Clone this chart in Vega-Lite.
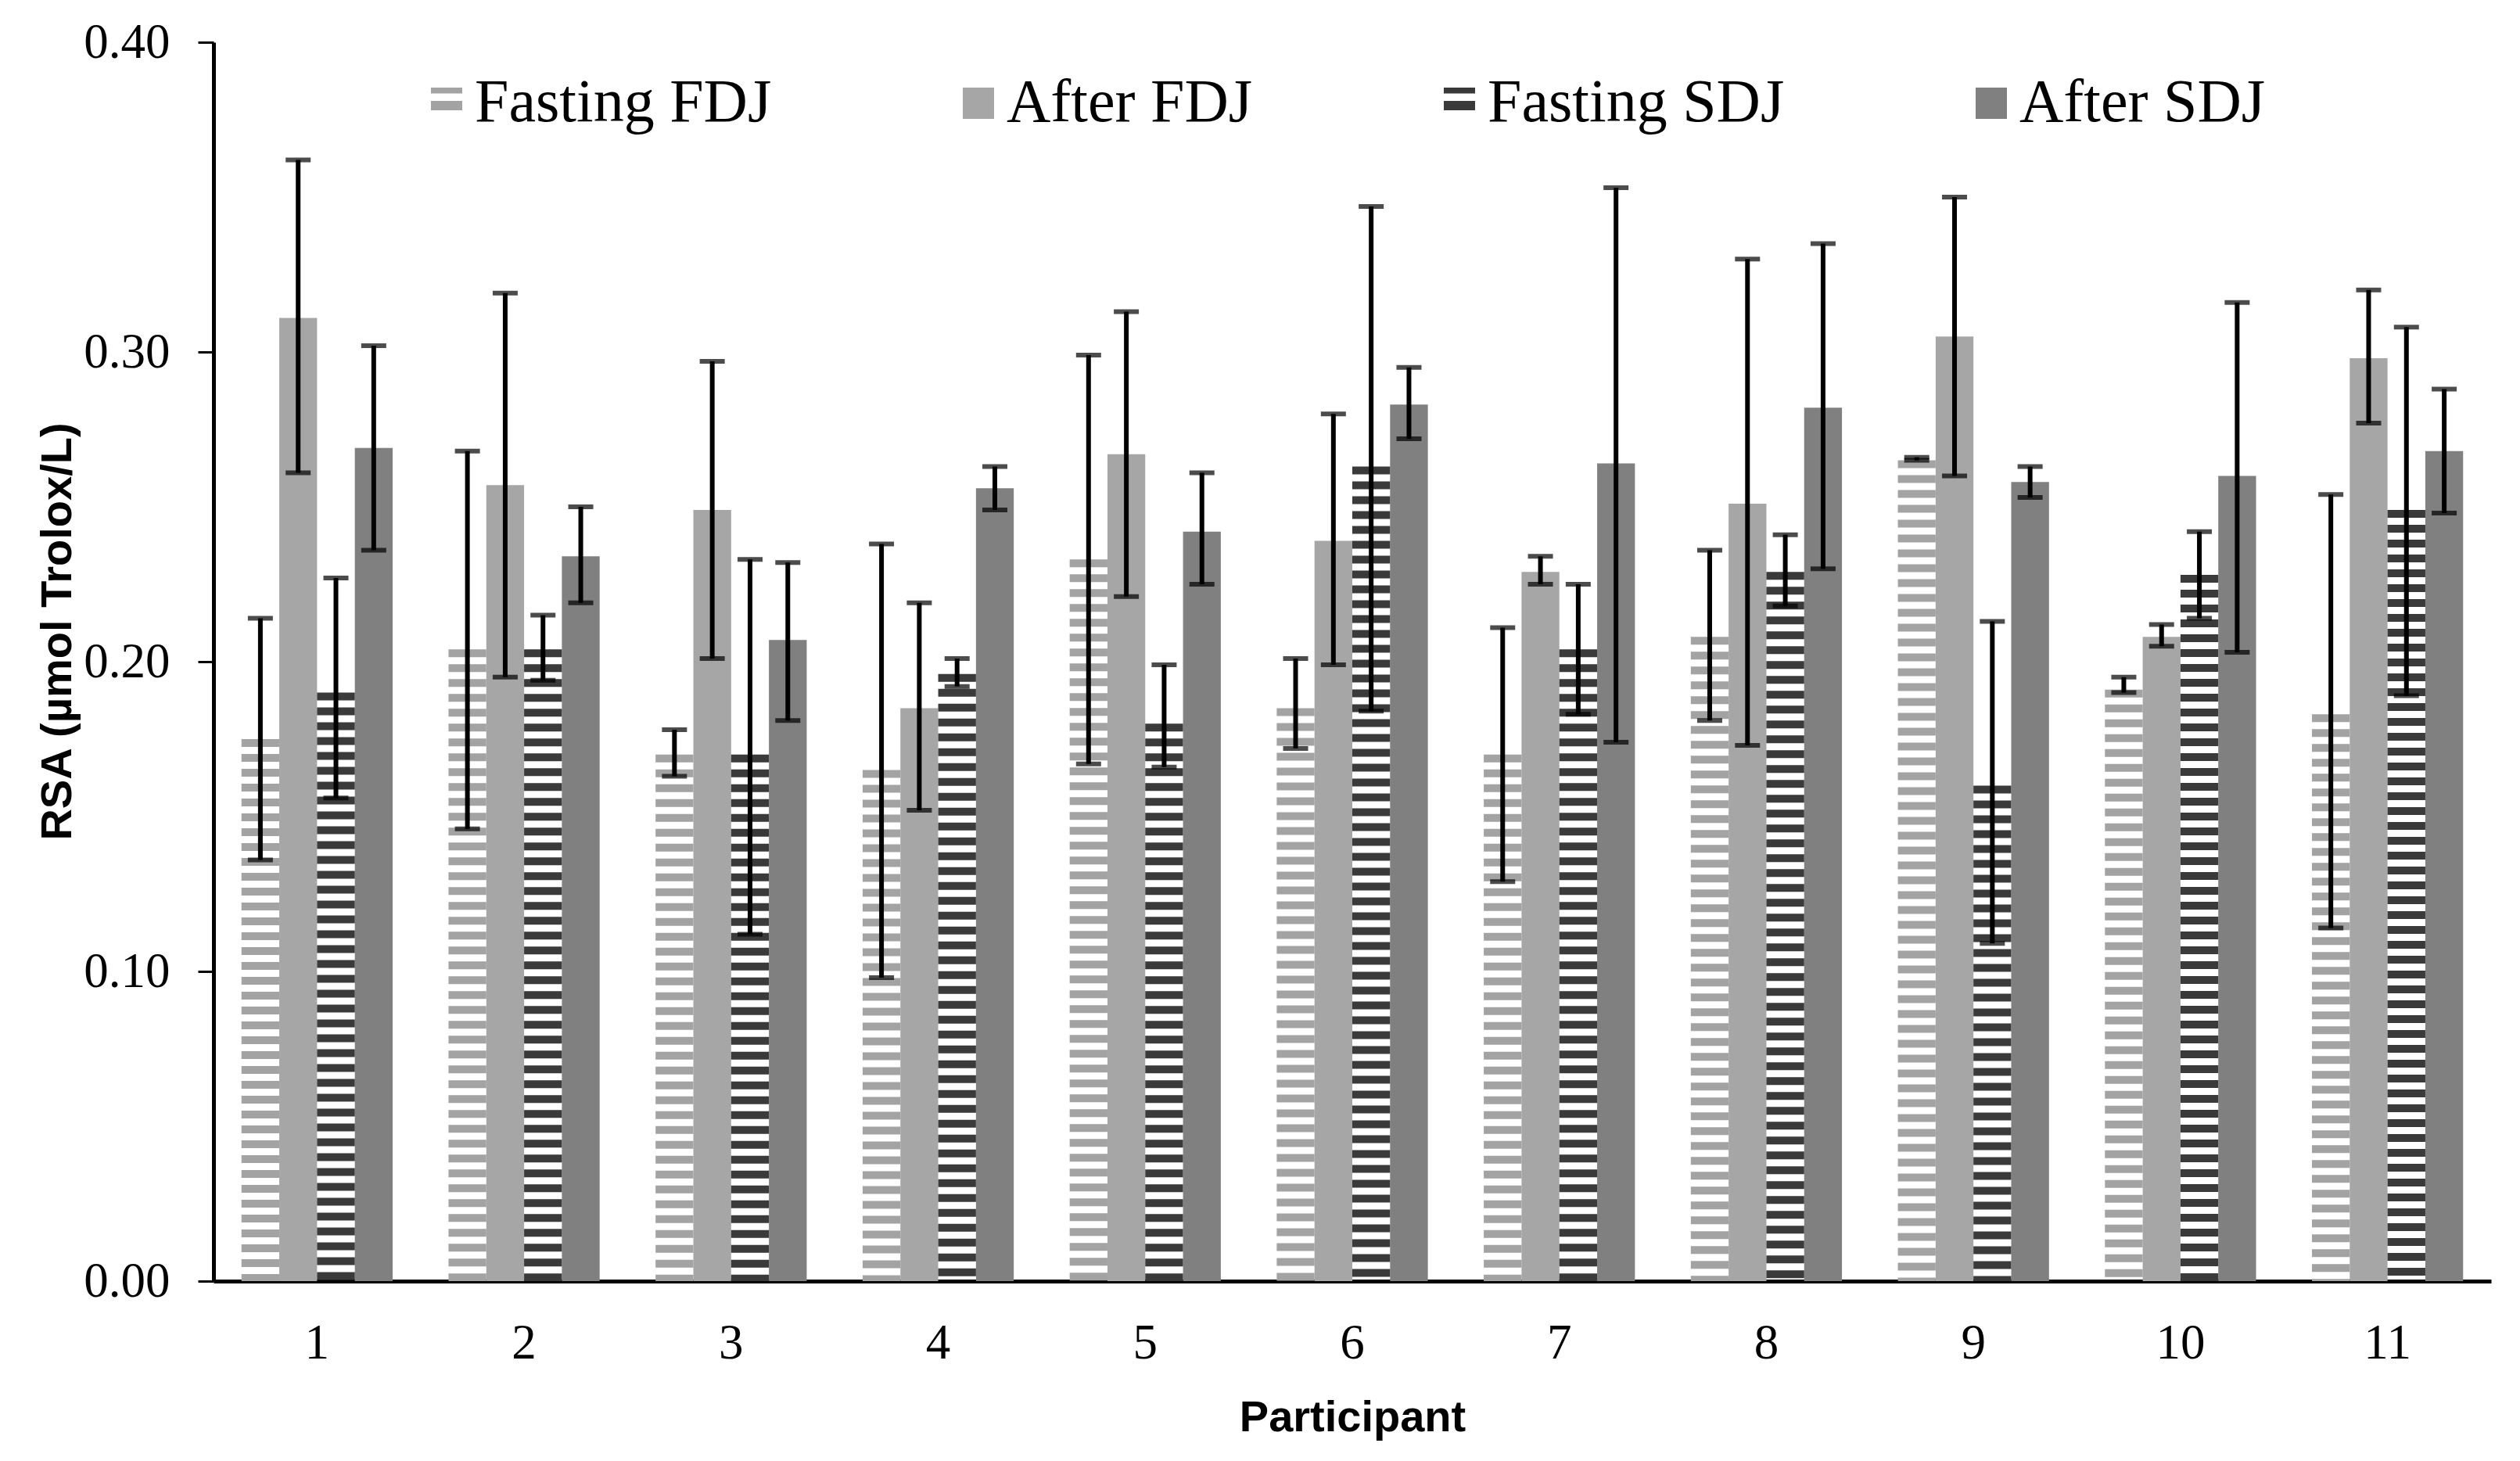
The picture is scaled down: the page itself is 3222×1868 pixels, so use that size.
{
  "$schema": "https://vega.github.io/schema/vega-lite/v6.json",
  "autosize": {"type": "none"},
  "padding": {"left": 273, "top": 54, "right": 37, "bottom": 230},
  "width": 2912,
  "height": 1584,
  "background": "white",
  "config": {"view": {"stroke": null}},
  "data": {"values": [
    {"participant": 1, "series": "Fasting FDJ", "value": 0.175, "lo": 0.136, "hi": 0.214},
    {"participant": 1, "series": "After FDJ", "value": 0.311, "lo": 0.261, "hi": 0.362},
    {"participant": 1, "series": "Fasting SDJ", "value": 0.190, "lo": 0.156, "hi": 0.227},
    {"participant": 1, "series": "After SDJ", "value": 0.269, "lo": 0.236, "hi": 0.302},
    {"participant": 2, "series": "Fasting FDJ", "value": 0.204, "lo": 0.146, "hi": 0.268},
    {"participant": 2, "series": "After FDJ", "value": 0.257, "lo": 0.195, "hi": 0.319},
    {"participant": 2, "series": "Fasting SDJ", "value": 0.204, "lo": 0.194, "hi": 0.215},
    {"participant": 2, "series": "After SDJ", "value": 0.234, "lo": 0.219, "hi": 0.250},
    {"participant": 3, "series": "Fasting FDJ", "value": 0.170, "lo": 0.163, "hi": 0.178},
    {"participant": 3, "series": "After FDJ", "value": 0.249, "lo": 0.201, "hi": 0.297},
    {"participant": 3, "series": "Fasting SDJ", "value": 0.170, "lo": 0.112, "hi": 0.233},
    {"participant": 3, "series": "After SDJ", "value": 0.207, "lo": 0.181, "hi": 0.232},
    {"participant": 4, "series": "Fasting FDJ", "value": 0.165, "lo": 0.098, "hi": 0.238},
    {"participant": 4, "series": "After FDJ", "value": 0.185, "lo": 0.152, "hi": 0.219},
    {"participant": 4, "series": "Fasting SDJ", "value": 0.196, "lo": 0.192, "hi": 0.201},
    {"participant": 4, "series": "After SDJ", "value": 0.256, "lo": 0.249, "hi": 0.263},
    {"participant": 5, "series": "Fasting FDJ", "value": 0.233, "lo": 0.167, "hi": 0.299},
    {"participant": 5, "series": "After FDJ", "value": 0.267, "lo": 0.221, "hi": 0.313},
    {"participant": 5, "series": "Fasting SDJ", "value": 0.180, "lo": 0.166, "hi": 0.199},
    {"participant": 5, "series": "After SDJ", "value": 0.242, "lo": 0.225, "hi": 0.261},
    {"participant": 6, "series": "Fasting FDJ", "value": 0.185, "lo": 0.172, "hi": 0.201},
    {"participant": 6, "series": "After FDJ", "value": 0.239, "lo": 0.199, "hi": 0.280},
    {"participant": 6, "series": "Fasting SDJ", "value": 0.263, "lo": 0.184, "hi": 0.347},
    {"participant": 6, "series": "After SDJ", "value": 0.283, "lo": 0.272, "hi": 0.295},
    {"participant": 7, "series": "Fasting FDJ", "value": 0.170, "lo": 0.129, "hi": 0.211},
    {"participant": 7, "series": "After FDJ", "value": 0.229, "lo": 0.225, "hi": 0.234},
    {"participant": 7, "series": "Fasting SDJ", "value": 0.204, "lo": 0.183, "hi": 0.225},
    {"participant": 7, "series": "After SDJ", "value": 0.264, "lo": 0.174, "hi": 0.353},
    {"participant": 8, "series": "Fasting FDJ", "value": 0.208, "lo": 0.181, "hi": 0.236},
    {"participant": 8, "series": "After FDJ", "value": 0.251, "lo": 0.173, "hi": 0.330},
    {"participant": 8, "series": "Fasting SDJ", "value": 0.229, "lo": 0.218, "hi": 0.241},
    {"participant": 8, "series": "After SDJ", "value": 0.282, "lo": 0.230, "hi": 0.335},
    {"participant": 9, "series": "Fasting FDJ", "value": 0.265, "lo": 0.265, "hi": 0.266},
    {"participant": 9, "series": "After FDJ", "value": 0.305, "lo": 0.260, "hi": 0.350},
    {"participant": 9, "series": "Fasting SDJ", "value": 0.160, "lo": 0.109, "hi": 0.213},
    {"participant": 9, "series": "After SDJ", "value": 0.258, "lo": 0.253, "hi": 0.263},
    {"participant": 10, "series": "Fasting FDJ", "value": 0.191, "lo": 0.190, "hi": 0.195},
    {"participant": 10, "series": "After FDJ", "value": 0.208, "lo": 0.205, "hi": 0.212},
    {"participant": 10, "series": "Fasting SDJ", "value": 0.228, "lo": 0.214, "hi": 0.242},
    {"participant": 10, "series": "After SDJ", "value": 0.260, "lo": 0.203, "hi": 0.316},
    {"participant": 11, "series": "Fasting FDJ", "value": 0.183, "lo": 0.114, "hi": 0.254},
    {"participant": 11, "series": "After FDJ", "value": 0.298, "lo": 0.277, "hi": 0.320},
    {"participant": 11, "series": "Fasting SDJ", "value": 0.249, "lo": 0.189, "hi": 0.308},
    {"participant": 11, "series": "After SDJ", "value": 0.268, "lo": 0.248, "hi": 0.288}
  ]},
  "encoding": {
    "x": {
      "field": "participant", "type": "ordinal",
      "scale": {"paddingInner": 0.27, "paddingOuter": 0.135},
      "axis": {
        "title": "Participant", "labelAngle": 0, "ticks": false,
        "domainColor": "black", "domainWidth": 5,
        "labelFont": "Liberation Serif", "labelFontSize": 63, "labelColor": "black",
        "labelBaseline": "alphabetic", "labelPadding": 98,
        "titleFont": "Liberation Sans, sans-serif", "titleFontSize": 56,
        "titleFontWeight": "bold", "titleColor": "black",
        "titleBaseline": "alphabetic", "titleY": 191
      }
    },
    "xOffset": {
      "field": "series", "type": "nominal",
      "scale": {"domain": ["Fasting FDJ", "After FDJ", "Fasting SDJ", "After SDJ"], "paddingInner": 0, "paddingOuter": 0}
    }
  },
  "layer": [
    {
      "transform": [{"filter": "indexof(datum.series, 'After') === 0"}],
      "mark": {"type": "bar"},
      "encoding": {
        "y": {
          "field": "value", "type": "quantitative", "title": "RSA (µmol Trolox/L)",
          "scale": {"domain": [0, 0.4], "nice": false},
          "axis": {
            "values": [0, 0.1, 0.2, 0.3, 0.4], "format": ".2f", "grid": false,
            "tickSize": 20, "tickWidth": 3, "tickColor": "black",
            "domainColor": "black", "domainWidth": 5,
            "labelFont": "Liberation Serif", "labelFontSize": 63, "labelColor": "black", "labelPadding": 36,
            "titleFont": "Liberation Sans, sans-serif", "titleFontSize": 56,
            "titleFontWeight": "bold", "titleColor": "black",
            "titleAngle": -90, "titleBaseline": "alphabetic", "titleX": -183, "titleY": 753
          }
        },
        "color": {
          "field": "series", "type": "nominal",
          "scale": {"domain": ["Fasting FDJ", "After FDJ", "Fasting SDJ", "After SDJ"], "range": ["#a3a3a3", "#a6a6a6", "#3a3a3a", "#808080"]},
          "legend": {
            "title": null, "orient": "none", "legendX": 259, "legendY": 39, "direction": "horizontal",
            "columnPadding": 225, "labelOffset": -3, "padding": 0, "labelLimit": 0,
            "labelFont": "Liberation Serif", "labelFontSize": 78, "labelColor": "black",
            "symbolSize": 1600, "symbolStrokeWidth": 0, "symbolOpacity": 1,
            "encode": {"symbols": {"update": {
              "shape": {"signal": "indexof(datum.value, 'Fasting') === 0 ? 'M-1,-1H1V-0.62H-1Z M-1,-0.15H1V0.45H-1Z' : 'square'"},
              "fill": {"scale": "color", "field": "value"},
              "strokeWidth": {"value": 0},
              "opacity": {"value": 1}
            }}}
          }
        }
      }
    },
    {
      "transform": [{"filter": "indexof(datum.series, 'Fasting') === 0"}],
      "mark": {"type": "rule", "strokeWidth": 48.3, "strokeDash": [10, 9], "strokeCap": "butt"},
      "encoding": {
        "y": {"field": "value", "type": "quantitative", "title": "RSA (µmol Trolox/L)"},
        "y2": {"datum": 0},
        "color": {
          "field": "series", "type": "nominal",
          "scale": {"domain": ["Fasting FDJ", "After FDJ", "Fasting SDJ", "After SDJ"], "range": ["#a3a3a3", "#a6a6a6", "#3a3a3a", "#808080"]}
        }
      }
    },
    {
      "mark": {"type": "rule", "color": "black", "strokeWidth": 6},
      "encoding": {
        "y": {"field": "lo", "type": "quantitative", "title": "RSA (µmol Trolox/L)"},
        "y2": {"field": "hi"}
      }
    },
    {
      "mark": {"type": "tick", "color": "black", "size": 32, "thickness": 6},
      "encoding": {"y": {"field": "lo", "type": "quantitative", "title": "RSA (µmol Trolox/L)"}}
    },
    {
      "mark": {"type": "tick", "color": "black", "size": 32, "thickness": 6},
      "encoding": {"y": {"field": "hi", "type": "quantitative", "title": "RSA (µmol Trolox/L)"}}
    }
  ]
}
